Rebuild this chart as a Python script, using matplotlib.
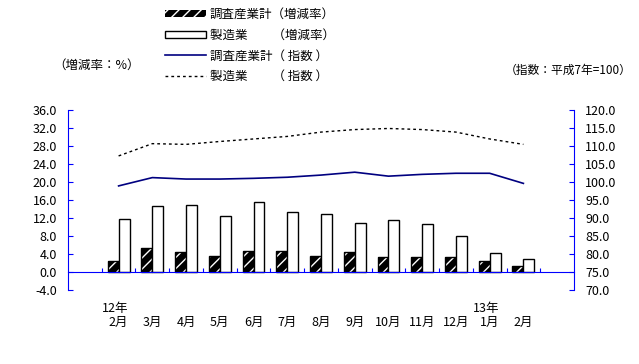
import matplotlib
matplotlib.use("Agg")
import matplotlib.pyplot as plt
from matplotlib.patches import Patch
from matplotlib.lines import Line2D
import numpy as np

plt.rcParams["font.family"] = ["Noto Sans CJK JP", "DejaVu Sans"]
plt.rcParams["hatch.linewidth"] = 1.0

# data: 平成12年2月 - 13年2月
months = ["2月", "3月", "4月", "5月", "6月", "7月", "8月", "9月",
          "10月", "11月", "12月", "1月", "2月"]
year_marks = {0: "12年", 11: "13年"}
total_rate = [2.5, 5.3, 4.5, 3.6, 4.7, 4.7, 3.6, 4.5, 3.4, 3.4, 3.4, 2.5, 1.4]
manuf_rate = [11.7, 14.6, 14.9, 12.4, 15.5, 13.3, 12.8, 10.8, 11.5, 10.6, 8.0, 4.2, 2.9]
total_index = [98.9, 101.2, 100.8, 100.8, 101.0, 101.3, 101.9, 102.7, 101.6, 102.1,
               102.4, 102.4, 99.6]
manuf_index = [107.2, 110.6, 110.4, 111.2, 111.9, 112.6, 113.8, 114.5, 114.8, 114.5,
               113.8, 111.9, 110.4]

BLUE = "#0000FF"
NAVY = "#000080"

fig = plt.figure(figsize=(6.39, 3.64), dpi=100)
ax = fig.add_axes([68 / 639, 1 - 290.3 / 364, (574 - 68) / 639, (290.3 - 109.7) / 364])

x = np.arange(1, len(months) + 1)
w = 0.325

# hatched dark bars: black fill with white hatch, then black outline
ax.bar(x - w / 2, total_rate, w, color="black", edgecolor="white", hatch="///",
       linewidth=0, zorder=2)
ax.bar(x - w / 2, total_rate, w, fill=False, edgecolor="black", linewidth=1.0, zorder=3)
ax.bar(x + w / 2, manuf_rate, w, color="white", edgecolor="black", linewidth=1.0, zorder=3)

ax.set_xlim(-0.5, 14.5)
ax.set_ylim(-4, 36)
ax.set_yticks(np.arange(-4, 37, 4))
ax.set_yticklabels([f"{v:.1f}" for v in np.arange(-4, 37, 4)])

for s in ["top", "right"]:
    ax.spines[s].set_visible(False)
ax.spines["left"].set_color(BLUE)
ax.spines["bottom"].set_color(BLUE)
ax.spines["bottom"].set_position(("data", 0))
ax.spines["bottom"].set_zorder(4)
ax.tick_params(axis="y", direction="in", length=3.5, color=BLUE, pad=8, labelsize=9)
ax.set_xticks(np.arange(0.5, 14, 1))
ax.tick_params(axis="x", direction="in", length=3, color=BLUE, labelbottom=False)

trans = ax.get_xaxis_transform()
for i, m in enumerate(months):
    ax.text(x[i], -0.18, m, transform=trans, ha="center", va="center", fontsize=9)
    if i in year_marks:
        ax.text(x[i] - 0.1, -0.10, year_marks[i], transform=trans, ha="center",
                va="center", fontsize=9)

ax2 = ax.twinx()
ax2.plot(x, total_index, color=NAVY, lw=1.2)
ax2.plot(x, manuf_index, color="black", lw=1.0, ls=(0, (2, 2.2)))
ax2.set_ylim(70, 120)
ax2.set_yticks(np.arange(70, 121, 5))
ax2.set_yticklabels([f"{v:.1f}" for v in np.arange(70, 121, 5)])
for s in ["top", "left", "bottom"]:
    ax2.spines[s].set_visible(False)
ax2.spines["right"].set_color(BLUE)
ax2.tick_params(axis="y", direction="in", length=3.5, color=BLUE, pad=8, labelsize=9)

fig.text(53 / 639, 1 - 65 / 364, "（増減率：%）", fontsize=9, va="center", ha="left")
fig.text(632 / 639, 1 - 70 / 364, "（指数：平成7年=100）", fontsize=8.5, va="center", ha="right")

handles = [
    Patch(facecolor="black", edgecolor="white", hatch="///", linewidth=0),
    Patch(facecolor="white", edgecolor="black", linewidth=1.0),
    Line2D([], [], color=NAVY, lw=1.2),
    Line2D([], [], color="black", lw=1.0, ls=(0, (2, 2.2))),
]
labels = ["調査産業計（増減率）", "製造業　　（増減率）",
          "調査産業計（ 指数 ）", "製造業　　（ 指数 ）"]
fig.legend(handles, labels, loc="upper left", bbox_to_anchor=(165 / 639, 1 - 8 / 364),
           frameon=False, fontsize=9, handlelength=3.3, handleheight=0.55,
           handletextpad=0.3, labelspacing=0.62, borderpad=0, borderaxespad=0)

fig.savefig("out.png", dpi=100)
